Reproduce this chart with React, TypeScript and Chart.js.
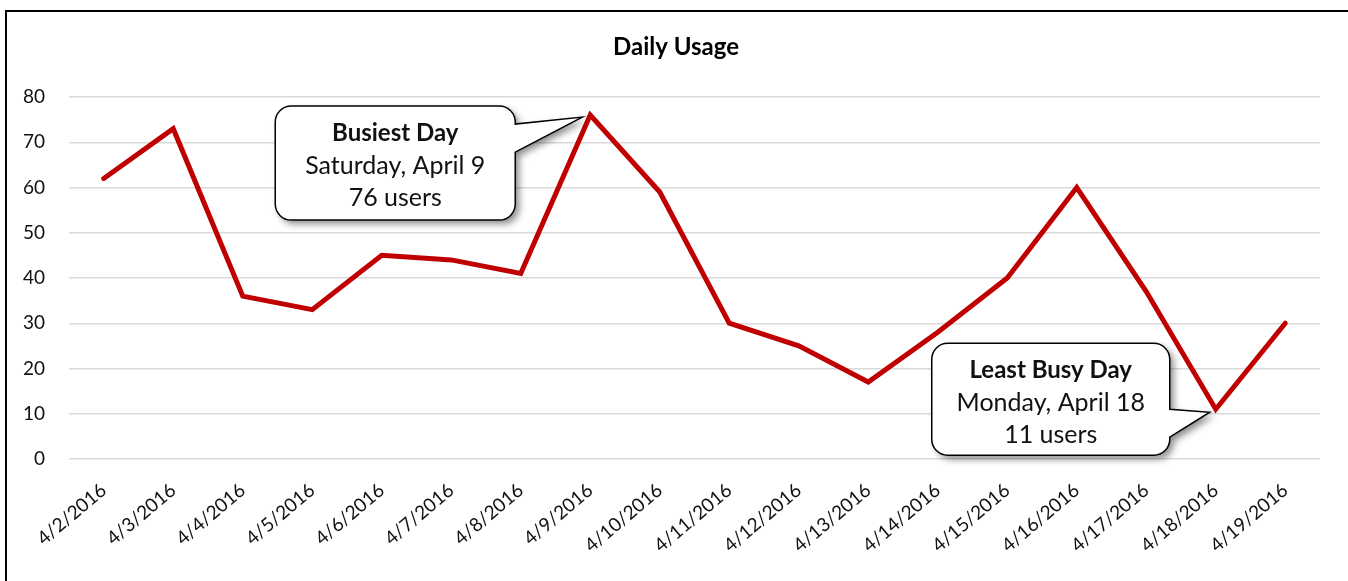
import React, { useEffect, useRef } from "react";
import { Chart, registerables } from "chart.js";

Chart.register(...registerables);

const dateLabels = [
  "4/2/2016", "4/3/2016", "4/4/2016", "4/5/2016", "4/6/2016", "4/7/2016",
  "4/8/2016", "4/9/2016", "4/10/2016", "4/11/2016", "4/12/2016", "4/13/2016",
  "4/14/2016", "4/15/2016", "4/16/2016", "4/17/2016", "4/18/2016", "4/19/2016",
];
const dailyUsers = [62, 73, 36, 33, 45, 44, 41, 76, 59, 30, 25, 17, 28, 40, 60, 37, 11, 30];
const yMin = 0;
const yMax = 80;
const yStep = 10;
const chartTitle = "Daily Usage";
const busiestText = ["Busiest Day", "Saturday, April 9", "76 users"];
const leastText = ["Least Busy Day", "Monday, April 18", "11 users"];

const FONT = "Lato, 'Open Sans', sans-serif";

type Callout = {
  index: number;
  lines: string[];
  left: number; right: number; top: number; bottom: number;
  p1: number; p2: number; tipDx: number; tipDy: number;
};

const callouts: Callout[] = [
  { index: 7, lines: busiestText, left: -315, right: -75, top: -9, bottom: 105, p1: 18, p2: 46, tipDx: -8, tipDy: 2 },
  { index: 16, lines: leastText, left: -284, right: -46, top: -66, bottom: 46, p1: 66, p2: 94, tipDx: -6, tipDy: 3 },
];

const decorPlugin = {
  id: "decor",
  beforeDraw(chart: any) {
    const ctx = chart.ctx;
    ctx.save();
    ctx.fillStyle = "#ffffff";
    ctx.fillRect(0, 0, chart.width, chart.height);
    ctx.strokeStyle = "#000000";
    ctx.lineWidth = 2;
    ctx.beginPath();
    ctx.moveTo(6, chart.height);
    ctx.lineTo(6, 11);
    ctx.lineTo(chart.width, 11);
    ctx.stroke();
    ctx.fillStyle = "#000000";
    ctx.font = `bold 24px ${FONT}`;
    ctx.textAlign = "center";
    ctx.textBaseline = "middle";
    ctx.fillText(chartTitle, 676, 47);
    ctx.restore();
  },
  afterDatasetsDraw(chart: any) {
    const ctx = chart.ctx;
    const xs = chart.scales.x;
    const ys = chart.scales.y;
    callouts.forEach((c) => {
      const px = xs.getPixelForValue(c.index);
      const py = ys.getPixelForValue(dailyUsers[c.index]);
      const L = px + c.left, R = px + c.right, T = py + c.top, B = py + c.bottom;
      const r = 16;
      const tx = px + c.tipDx, ty = py + c.tipDy;
      const path = () => {
        ctx.beginPath();
        ctx.moveTo(L + r, T);
        ctx.lineTo(R - r, T);
        ctx.arcTo(R, T, R, T + r, r);
        ctx.lineTo(R, T + c.p1);
        ctx.lineTo(tx, ty);
        ctx.lineTo(R, T + c.p2);
        ctx.lineTo(R, B - r);
        ctx.arcTo(R, B, R - r, B, r);
        ctx.lineTo(L + r, B);
        ctx.arcTo(L, B, L, B - r, r);
        ctx.lineTo(L, T + r);
        ctx.arcTo(L, T, L + r, T, r);
        ctx.closePath();
      };
      ctx.save();
      ctx.shadowColor = "rgba(0,0,0,0.45)";
      ctx.shadowBlur = 7;
      ctx.shadowOffsetX = 4;
      ctx.shadowOffsetY = 4;
      path();
      ctx.fillStyle = "#ffffff";
      ctx.fill();
      ctx.restore();
      ctx.save();
      path();
      ctx.strokeStyle = "#000000";
      ctx.lineWidth = 1.5;
      ctx.stroke();
      const cx = (L + R) / 2;
      ctx.fillStyle = "#111111";
      ctx.textAlign = "center";
      ctx.textBaseline = "middle";
      c.lines.forEach((ln, i) => {
        ctx.font = `${i === 0 ? "bold 24px" : "25px"} ${FONT}`;
        ctx.fillText(ln, cx, T + 27 + i * 32.5);
      });
      ctx.restore();
    });
  },
};

export default function App() {
  const ref = useRef<HTMLCanvasElement | null>(null);
  useEffect(() => {
    if (!ref.current) return;
    const chart = new Chart(ref.current, {
      type: "line",
      data: {
        labels: dateLabels,
        datasets: [
          {
            data: dailyUsers,
            borderColor: "#C00000",
            borderWidth: 5,
            pointRadius: 0,
            tension: 0,
            borderCapStyle: "round",
            borderJoinStyle: "miter",
          },
        ],
      },
      options: {
        animation: false,
        responsive: false,
        devicePixelRatio: 1,
        layout: { padding: { left: 0, right: 28, top: 97, bottom: 0 } },
        plugins: {
          legend: { display: false },
          tooltip: { enabled: false },
          title: { display: false },
        },
        scales: {
          x: {
            offset: true,
            grid: { display: false, drawTicks: false },
            border: { display: false },
            ticks: {
              minRotation: 40,
              maxRotation: 40,
              autoSkip: false,
              padding: 20,
              color: "#111111",
              font: { family: FONT, size: 19 },
            },
            afterFit(scale: any) {
              scale.height = 122;
            },
          },
          y: {
            min: yMin,
            max: yMax,
            grid: { color: "#d9d9d9", lineWidth: 1.5, drawTicks: false },
            border: { display: false },
            ticks: {
              stepSize: yStep,
              padding: 24,
              color: "#111111",
              font: { family: FONT, size: 19 },
            },
            afterFit(scale: any) {
              scale.width = 69;
            },
          },
        },
      },
      plugins: [decorPlugin],
    });
    return () => chart.destroy();
  }, []);
  return (
    <div style={{ position: "fixed", left: 0, top: 0, width: 1348, height: 581 }}>
      <canvas ref={ref} width={1348} height={581} style={{ display: "block" }} />
    </div>
  );
}
